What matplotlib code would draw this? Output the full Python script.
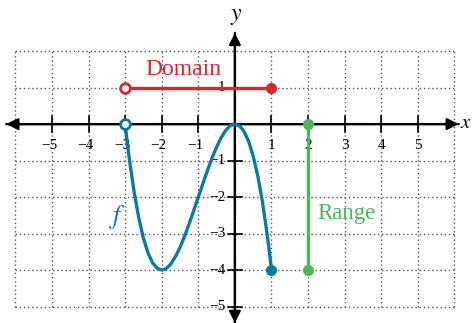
import matplotlib
matplotlib.use("Agg")
import matplotlib.pyplot as plt
from matplotlib.patches import FancyArrowPatch

# curve points
fx = [-3, -2.95, -2.9, -2.875, -2.75, -2.625, -2.5, -2.375, -2.25, -2.125, -2,
      -1.875, -1.75, -1.625, -1.5, -1.375, -1.25, -1.125, -1, -0.875, -0.75,
      -0.625, -0.5, -0.375, -0.25, -0.125, 0, 0.125, 0.25, 0.375, 0.5, 0.625,
      0.75, 0.875, 0.95, 1]
fy = [0, -0.44, -0.84, -1.03, -1.89, -2.58, -3.13, -3.53, -3.80, -3.95, -4,
      -3.96, -3.83, -3.63, -3.38, -3.07, -2.73, -2.37, -2, -1.63, -1.27,
      -0.93, -0.63, -0.37, -0.17, -0.04, 0, -0.05, -0.20, -0.47, -0.88, -1.42,
      -2.11, -2.97, -3.56, -4]

domain = [-3, 1]
range_ = [-4, 0]
xticks = [-5, -4, -3, -2, -1, 1, 2, 3, 4, 5]
yticks = [-5, -4, -3, -2, -1, 1]

red = "#e0242f"
blue = "#0a7aa0"
green = "#4ab957"

plt.rcParams['font.family'] = ['Liberation Serif', 'DejaVu Serif']
plt.rcParams['mathtext.fontset'] = 'stix'

fig = plt.figure(figsize=(4.72, 3.23), dpi=100)
ax = fig.add_axes([0, 0, 1, 1])
ax.set_xlim(-6.42, 6.48)
ax.set_ylim(-5.45, 3.40)
ax.axis('off')

# dotted grid
for gx in range(-6, 7):
    ax.plot([gx, gx], [-5, 2], color="#555555", lw=1, ls=(0, (1, 2)), zorder=1)
for gy in range(-5, 3):
    ax.plot([-6, 6], [gy, gy], color="#555555", lw=1, ls=(0, (1, 2)), zorder=1)

# axes with arrows at both ends
arrow = "-|>,head_length=7,head_width=3.5"
for a, b in [((-6.25, 0), (6.12, 0)), ((6.12, 0), (-6.25, 0)),
             ((0, -5.45), (0, 2.5)), ((0, 2.5), (0, -5.45))]:
    ax.add_patch(FancyArrowPatch(a, b, arrowstyle=arrow, color="black", lw=1.6,
                                 mutation_scale=1, zorder=3, shrinkA=0, shrinkB=0))

for t in xticks:
    ax.plot([t, t], [-0.22, 0.22], color="black", lw=1.2, zorder=3)
    ax.text(t - 0.08 * (t < 0), -0.58, str(t).replace('-', '\u2212'), ha='center', va='center',
            fontsize=11, zorder=4)
for t in yticks:
    ax.plot([-0.2, 0.2], [t, t], color="black", lw=1.2, zorder=3)
    ax.text(-0.25, t, str(t).replace('-', '\u2212'), ha='right', va='center', fontsize=11, zorder=4)

ax.text(0.05, 2.95, "$y$", fontsize=17, ha='center', va='center')
ax.text(6.14, 0.02, "$x$", fontsize=15, ha='left', va='center')

# domain
ax.plot(domain, [1, 1], color=red, lw=2.4, zorder=5)
ax.plot([domain[0]], [1], 'o', ms=7, mfc='white', mec=red, mew=2, zorder=6)
ax.plot([domain[1]], [1], 'o', ms=7, color=red, zorder=6)
ax.text(-1.42, 1.5, "Domain", color=red, fontsize=17, ha='center', va='center')

# range
ax.plot([2, 2], range_, color=green, lw=2.4, zorder=5)
ax.plot([2, 2], range_, 'o', ms=7, color=green, zorder=6)
ax.text(2.25, -2.45, "Range", color=green, fontsize=16.5, ha='left', va='center')

# function
ax.plot(fx, fy, color=blue, lw=2.4, zorder=5, solid_joinstyle='round')
ax.plot([fx[0]], [fy[0]], 'o', ms=7, mfc='white', mec=blue, mew=2, zorder=6)
ax.plot([fx[-1]], [fy[-1]], 'o', ms=7, color=blue, zorder=6)
ax.text(-3.2, -2.55, "$f$", color=blue, fontsize=19, ha='center', va='center')

fig.savefig("out.png", dpi=100)
